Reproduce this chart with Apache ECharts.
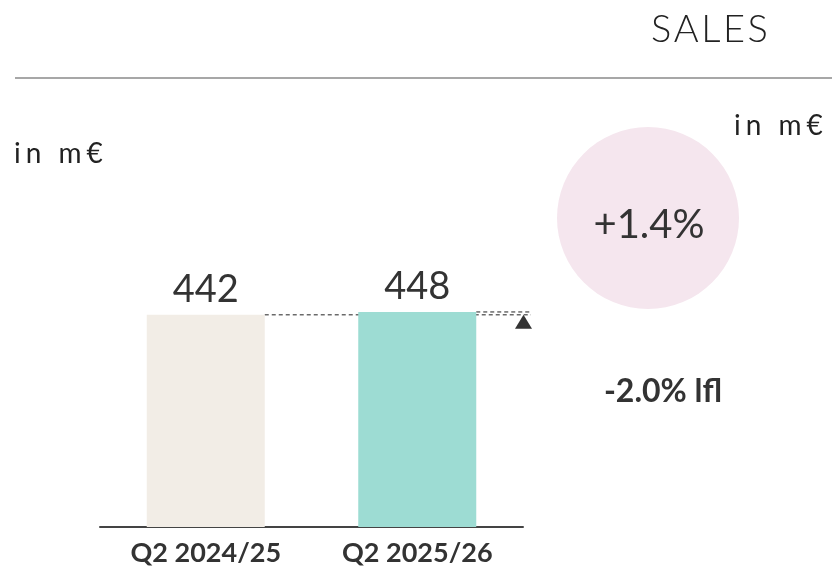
<!DOCTYPE html>
<html>
<head>
<meta charset="utf-8">
<script src="https://cdn.jsdelivr.net/npm/echarts@6/dist/echarts.min.js"></script>
<style>
  html, body { margin: 0; padding: 0; background: #fff; }
  #chart { width: 832px; height: 566px; }
</style>
</head>
<body>
<div id="chart"></div>
<script>
// 数据
const categories = ['Q2 2024/25', 'Q2 2025/26'];
const salesValues = [442, 448];
const barColors = ['#f2ede6', '#9ddcd3'];
const growthText = '+1.4%';
const lflText = '-2.0% lfl';

const FONT = 'Lato, "Open Sans", sans-serif';
const chart = echarts.init(document.getElementById('chart'));

// 字间距：用 rich 文本把每个字符拆开
function spaced(str) {
  return str.split('').map((ch, i) => (i === 0 ? '{f|' : '{c|') + ch + '}').join('');
}
function spacedRich(size, weight, gap) {
  const base = { fontSize: size, fontWeight: weight, fontFamily: FONT, fill: '#222', color: '#222' };
  return { f: base, c: Object.assign({}, base, { padding: [0, 0, 0, gap] }) };
}

const option = {
  animation: false,
  grid: { left: 100, right: 309, top: 287, bottom: 39, outerBoundsMode: 'none', containLabel: false },
  xAxis: {
    type: 'category',
    data: categories,
    axisLine: { lineStyle: { color: '#444', width: 2 } },
    axisTick: { show: false },
    axisLabel: { color: '#333', fontSize: 27, fontWeight: 'bold', fontFamily: FONT, margin: 13 }
  },
  yAxis: { type: 'value', min: 0, max: 500, show: false },
  series: [{
    type: 'bar',
    barWidth: 118,
    data: salesValues.map((v, i) => ({ value: v, itemStyle: { color: barColors[i] } })),
    label: { show: true, position: 'top', distance: 6, color: '#333', fontSize: 38, fontFamily: FONT }
  }]
};
chart.setOption(option);

// 虚线与三角形，位置由坐标轴换算
const barRight = (i) => chart.convertToPixel({ xAxisIndex: 0 }, categories[i]) + 59;
const yPix = (v) => chart.convertToPixel({ yAxisIndex: 0 }, v);
const lineEnd = 531;
const y0 = yPix(salesValues[0]);
const y1 = yPix(salesValues[1]);

chart.setOption({
  graphic: [
    { type: 'text', left: 651, top: 11, style: { text: spaced('SALES'), rich: spacedRich(38, 300, 2.5) } },
    { type: 'line', shape: { x1: 15, y1: 78, x2: 832, y2: 78 }, style: { stroke: '#8a8a8a', lineWidth: 1.5 } },
    { type: 'text', left: 14, top: 140, style: { text: spaced('in m€'), rich: spacedRich(28, 400, 5) } },
    { type: 'text', left: 734, top: 112, style: { text: spaced('in m€'), rich: spacedRich(28, 400, 5) } },
    { type: 'circle', shape: { cx: 648, cy: 218, r: 91 }, style: { fill: '#f5e6ee' } },
    { type: 'text', x: 649, y: 225, style: { text: growthText, fontSize: 40, fontFamily: FONT, fill: '#333', align: 'center', verticalAlign: 'middle' } },
    { type: 'text', x: 663, y: 392, style: { text: lflText, fontSize: 32, fontWeight: 'bold', fontFamily: FONT, fill: '#333', align: 'center', verticalAlign: 'middle' } },
    { type: 'line', shape: { x1: barRight(0), y1: y0, x2: lineEnd, y2: y0 }, style: { stroke: '#222', lineWidth: 1, lineDash: [4, 3] } },
    { type: 'line', shape: { x1: barRight(1), y1: y1, x2: lineEnd, y2: y1 }, style: { stroke: '#222', lineWidth: 1, lineDash: [4, 3] } },
    { type: 'polygon', shape: { points: [[523.5, y0], [515, y0 + 14], [532, y0 + 14]] }, style: { fill: '#333' } }
  ]
});

window.addEventListener('resize', () => chart.resize());
</script>
</body>
</html>
